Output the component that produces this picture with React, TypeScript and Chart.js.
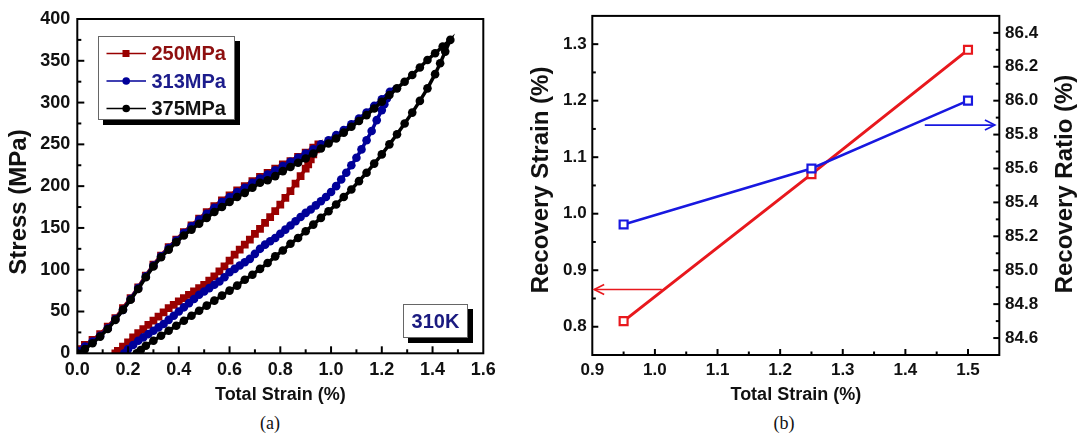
import React, { useEffect, useRef } from 'react';
import { Chart, registerables } from 'chart.js';

Chart.register(...registerables);

const SANS = '"Liberation Sans", Arial, Helvetica, sans-serif';
const SERIF = '"Liberation Serif", "Times New Roman", serif';

type Pt = [number, number];

// (a) stress–strain loops: [total strain %, stress MPa], loading then unloading
const loop250: Pt[] = [
  [0, 5], [0.03, 10], [0.06, 16], [0.09, 23], [0.12, 32], [0.15, 42], [0.18, 54], [0.21, 66],
  [0.24, 79], [0.27, 93], [0.3, 106], [0.33, 117], [0.36, 127], [0.39, 136], [0.42, 145],
  [0.45, 153], [0.48, 161], [0.51, 169], [0.54, 176], [0.57, 183], [0.6, 189], [0.63, 195],
  [0.66, 200], [0.69, 206], [0.72, 211], [0.75, 216], [0.78, 221], [0.81, 226], [0.84, 230],
  [0.87, 235], [0.9, 240], [0.93, 246], [0.95, 250],
  [0.94, 244], [0.93, 238], [0.92, 232], [0.91, 226], [0.9, 221], [0.88, 212], [0.86, 203],
  [0.84, 194], [0.82, 186], [0.8, 178], [0.78, 170], [0.76, 163], [0.74, 156], [0.72, 149],
  [0.7, 143], [0.68, 136], [0.66, 130], [0.64, 124], [0.62, 118], [0.6, 111], [0.58, 104],
  [0.56, 98], [0.54, 92], [0.52, 87], [0.5, 82], [0.48, 78], [0.46, 74], [0.44, 70], [0.42, 66],
  [0.4, 62], [0.38, 58], [0.36, 54], [0.34, 49], [0.32, 44], [0.3, 39], [0.28, 34], [0.26, 29],
  [0.24, 24], [0.22, 19], [0.2, 13], [0.18, 8], [0.16, 3], [0.15, 0],
];

const loop313: Pt[] = [
  [0, 3], [0.03, 8], [0.06, 14], [0.09, 21], [0.12, 30], [0.15, 41], [0.18, 52], [0.21, 65],
  [0.24, 78], [0.27, 92], [0.3, 105], [0.33, 116], [0.36, 126], [0.39, 135], [0.42, 144],
  [0.45, 152], [0.48, 160], [0.51, 167], [0.54, 174], [0.57, 181], [0.6, 187], [0.63, 193],
  [0.66, 198], [0.69, 204], [0.72, 209], [0.75, 214], [0.78, 219], [0.81, 224], [0.84, 229],
  [0.87, 234], [0.9, 239], [0.93, 244], [0.96, 250], [0.99, 255], [1.02, 261], [1.05, 267],
  [1.08, 274], [1.11, 281], [1.14, 288], [1.17, 296], [1.2, 304], [1.232, 313],
  [1.22, 305], [1.21, 298], [1.2, 291], [1.18, 279], [1.16, 266], [1.14, 255], [1.12, 244],
  [1.1, 234], [1.08, 225], [1.06, 216], [1.04, 208], [1.02, 200], [1.0, 193], [0.98, 187],
  [0.96, 182], [0.94, 177], [0.92, 172], [0.9, 168], [0.88, 163], [0.86, 158], [0.84, 153],
  [0.82, 148], [0.8, 143], [0.78, 138], [0.76, 134], [0.74, 130], [0.72, 125], [0.7, 119],
  [0.68, 113], [0.66, 109], [0.64, 105], [0.62, 101], [0.6, 97], [0.58, 91], [0.56, 86],
  [0.54, 82], [0.52, 78], [0.5, 74], [0.48, 70], [0.46, 65], [0.44, 60], [0.42, 55], [0.4, 50],
  [0.38, 45], [0.36, 40], [0.34, 35], [0.32, 31], [0.3, 27], [0.28, 23], [0.26, 19], [0.24, 15],
  [0.22, 10], [0.2, 5], [0.185, 0],
];

const loop375: Pt[] = [
  [0, 0], [0.03, 5], [0.06, 12], [0.09, 20], [0.12, 29], [0.15, 40], [0.18, 52], [0.21, 64],
  [0.24, 77], [0.27, 91], [0.3, 104], [0.33, 115], [0.36, 124], [0.39, 133], [0.42, 141],
  [0.45, 148], [0.48, 155], [0.51, 162], [0.54, 169], [0.57, 175], [0.6, 181], [0.63, 187],
  [0.66, 192], [0.69, 198], [0.72, 204], [0.75, 207], [0.78, 212], [0.81, 218], [0.84, 223],
  [0.87, 228], [0.9, 233], [0.93, 239], [0.96, 245], [0.99, 251], [1.02, 257], [1.05, 264],
  [1.08, 271], [1.11, 278], [1.14, 285], [1.17, 293], [1.2, 301], [1.23, 309], [1.26, 317],
  [1.29, 325], [1.32, 333], [1.35, 342], [1.38, 351], [1.41, 359], [1.44, 367], [1.47, 375],
  [1.45, 361], [1.43, 347], [1.41, 334], [1.38, 317], [1.35, 302], [1.32, 288], [1.29, 275],
  [1.26, 262], [1.23, 250], [1.2, 238], [1.17, 227], [1.14, 216], [1.11, 206], [1.08, 196],
  [1.05, 187], [1.02, 178], [0.99, 170], [0.96, 162], [0.93, 154], [0.9, 146], [0.87, 138],
  [0.84, 131], [0.81, 123], [0.78, 116], [0.75, 108], [0.72, 101], [0.69, 94], [0.66, 88],
  [0.63, 81], [0.6, 75], [0.57, 69], [0.54, 63], [0.51, 57], [0.48, 51], [0.45, 45], [0.42, 39],
  [0.39, 33], [0.36, 27], [0.33, 21], [0.3, 15], [0.27, 9], [0.25, 4], [0.234, 0],
];

const loopLabels = ['250MPa', '313MPa', '375MPa'];
const tempLabel = '310K';
const strainTicksA = [0, 0.2, 0.4, 0.6, 0.8, 1.0, 1.2, 1.4, 1.6];
const stressTicks = [0, 50, 100, 150, 200, 250, 300, 350, 400];

// (b) recovery vs. total strain
const totalStrain = [0.95, 1.25, 1.5];
const recoveryStrain = [0.81, 1.07, 1.29];
const recoveryRatio = [85.27, 85.6, 86.0];
const strainTicksB = [0.9, 1.0, 1.1, 1.2, 1.3, 1.4, 1.5];
const recoveryStrainTicks = [0.8, 0.9, 1.0, 1.1, 1.2, 1.3];
const recoveryRatioTicks = [84.6, 84.8, 85.0, 85.2, 85.4, 85.6, 85.8, 86.0, 86.2, 86.4];

const LOOP_COLORS = ['#990000', '#000099', '#000000'];
const LOOP_TEXT = ['#8e0f0f', '#1c1c8c', '#111111'];
const RED = '#e8181d';
const BLUE = '#1818e0';

type Side = { id: string; side: 'left' | 'right' | 'bottom'; major: number; minor: number };

function frameTicks(sides: Side[], majorLen: number, minorLen: number) {
  return {
    id: 'frameTicks',
    afterDatasetsDraw(chart: any) {
      const { ctx, chartArea: a } = chart;
      ctx.save();
      ctx.strokeStyle = '#000';
      ctx.lineWidth = 2;
      ctx.strokeRect(a.left, a.top, a.right - a.left, a.bottom - a.top);
      for (const s of sides) {
        const sc = chart.scales[s.id];
        const k0 = Math.ceil(sc.min / s.minor - 1e-6);
        const k1 = Math.floor(sc.max / s.minor + 1e-6);
        for (let k = k0; k <= k1; k++) {
          const v = k * s.minor;
          if (Math.abs(v - sc.min) < 1e-6 || Math.abs(v - sc.max) < 1e-6) continue;
          const r = v / s.major;
          const len = Math.abs(r - Math.round(r)) < 1e-6 ? majorLen : minorLen;
          const p = sc.getPixelForValue(v);
          ctx.beginPath();
          if (s.side === 'left') { ctx.moveTo(a.left, p); ctx.lineTo(a.left + len, p); }
          else if (s.side === 'right') { ctx.moveTo(a.right, p); ctx.lineTo(a.right - len, p); }
          else { ctx.moveTo(p, a.bottom); ctx.lineTo(p, a.bottom - len); }
          ctx.stroke();
        }
      }
      ctx.restore();
    },
  };
}

type Label = { text: string; x: number; y: number; size: number; rotate?: boolean };

function axisTitles(labels: Label[]) {
  return {
    id: 'axisTitles',
    afterDraw(chart: any) {
      const { ctx } = chart;
      ctx.save();
      ctx.fillStyle = '#111';
      ctx.textAlign = 'center';
      ctx.textBaseline = 'middle';
      for (const l of labels) {
        ctx.font = `bold ${l.size}px ${SANS}`;
        ctx.save();
        ctx.translate(l.x, l.y);
        if (l.rotate) ctx.rotate(-Math.PI / 2);
        ctx.fillText(l.text, 0, 0);
        ctx.restore();
      }
      ctx.restore();
    },
  };
}

function shadowBox(ctx: CanvasRenderingContext2D, x: number, y: number, w: number, h: number) {
  ctx.fillStyle = '#000';
  ctx.fillRect(x + 5, y + 5, w, h);
  ctx.fillStyle = '#fff';
  ctx.fillRect(x, y, w, h);
  ctx.strokeStyle = '#666';
  ctx.lineWidth = 1;
  ctx.strokeRect(x + 0.5, y + 0.5, w - 1, h - 1);
}

const loopLegend = {
  id: 'loopLegend',
  afterDraw(chart: any) {
    const { ctx } = chart;
    ctx.save();
    shadowBox(ctx, 98, 36, 137, 84);
    const rows = [53.5, 81, 108.5];
    loopLabels.forEach((label, i) => {
      const y = rows[i];
      ctx.strokeStyle = LOOP_COLORS[i];
      ctx.lineWidth = 1.5;
      ctx.beginPath();
      ctx.moveTo(106.5, y);
      ctx.lineTo(146, y);
      ctx.stroke();
      ctx.fillStyle = LOOP_COLORS[i];
      if (i === 0) ctx.fillRect(122.5, y - 3.5, 7, 7);
      else { ctx.beginPath(); ctx.arc(126.2, y, 3.8, 0, Math.PI * 2); ctx.fill(); }
      ctx.fillStyle = LOOP_TEXT[i];
      ctx.font = `bold 20px ${SANS}`;
      ctx.textAlign = 'left';
      ctx.textBaseline = 'middle';
      ctx.fillText(label, 151.5, y + 1);
    });
    shadowBox(ctx, 403, 304, 65, 34);
    ctx.fillStyle = '#1a1a80';
    ctx.font = `bold 20px ${SANS}`;
    ctx.textAlign = 'center';
    ctx.textBaseline = 'middle';
    ctx.fillText(tempLabel, 435.5, 322);
    ctx.restore();
  },
};

function arrow(ctx: CanvasRenderingContext2D, x0: number, x1: number, y: number, color: string) {
  ctx.strokeStyle = color;
  ctx.lineWidth = 1.6;
  ctx.beginPath();
  ctx.moveTo(x0, y);
  ctx.lineTo(x1, y);
  ctx.stroke();
  const dir = Math.sign(x1 - x0);
  ctx.beginPath();
  ctx.moveTo(x1 - dir * 10, y - 5);
  ctx.lineTo(x1, y);
  ctx.lineTo(x1 - dir * 10, y + 5);
  ctx.stroke();
}

const axisArrows = {
  id: 'axisArrows',
  afterDatasetsDraw(chart: any) {
    const { ctx, scales } = chart;
    ctx.save();
    const yr = scales.y.getPixelForValue(0.866);
    arrow(ctx, scales.x.getPixelForValue(1.011), scales.x.getPixelForValue(0.903), yr, RED);
    const yb = scales.y1.getPixelForValue(85.856);
    arrow(ctx, scales.x.getPixelForValue(1.431), scales.x.getPixelForValue(1.543), yb, BLUE);
    ctx.restore();
  },
};

const tickFont = (size: number) => ({ family: SANS, size, weight: 'bold' as const });
const fixed1 = (v: any) => Number(v).toFixed(1);
const fixedTicks = (values: number[]) => (s: any) => { s.ticks = values.map((value) => ({ value })); };

function axis(min: number, max: number, values: number[], size: number, pad: number, fmt?: (v: any) => string) {
  return {
    type: 'linear',
    min,
    max,
    bounds: 'data',
    afterBuildTicks: fixedTicks(values),
    grid: { display: false, drawTicks: false },
    border: { display: false },
    ticks: { autoSkip: false, padding: pad, color: '#111', font: tickFont(size), callback: fmt, maxRotation: 0 },
  };
}

export default function App() {
  const refA = useRef<HTMLCanvasElement>(null);
  const refB = useRef<HTMLCanvasElement>(null);

  useEffect(() => {
    const loops = [loop250, loop313, loop375];
    const chartA = new Chart(refA.current!, {
      type: 'scatter',
      data: {
        datasets: loops.map((pts, i) => ({
          label: loopLabels[i],
          data: pts.map(([x, y]) => ({ x, y })),
          showLine: true,
          borderColor: LOOP_COLORS[i],
          backgroundColor: LOOP_COLORS[i],
          borderWidth: 3.5,
          pointStyle: i === 0 ? 'rect' : 'circle',
          pointRadius: i === 0 ? 5.5 : 4.3,
          pointBorderWidth: 0,
          pointBackgroundColor: LOOP_COLORS[i],
          order: 3 - i,
        })),
      },
      options: {
        responsive: false,
        animation: false,
        devicePixelRatio: 1,
        events: [],
        layout: { padding: { top: 19, right: 36.7, bottom: 0, left: 0 } },
        plugins: { legend: { display: false }, tooltip: { enabled: false } },
        scales: {
          x: { ...axis(0, 1.6, strainTicksA, 18, 6, fixed1), afterFit: (s: any) => { s.height = 56.7; } },
          y: { ...axis(0, 400, stressTicks, 18, 7), afterFit: (s: any) => { s.width = 77.3; } },
        },
      },
      plugins: [
        frameTicks([
          { id: 'x', side: 'bottom', major: 0.2, minor: 0.1 },
          { id: 'y', side: 'left', major: 50, minor: 25 },
        ], 7, 4),
        axisTitles([
          { text: 'Stress (MPa)', x: 19, y: 202, size: 24, rotate: true },
          { text: 'Total Strain (%)', x: 280.3, y: 395, size: 18 },
        ]),
        loopLegend,
      ],
    } as any);

    const chartB = new Chart(refB.current!, {
      type: 'scatter',
      data: {
        datasets: [
          {
            label: 'Recovery Strain',
            data: totalStrain.map((x, i) => ({ x, y: recoveryStrain[i] })),
            yAxisID: 'y',
            showLine: true,
            borderColor: RED,
            borderWidth: 3,
            pointStyle: 'rect',
            pointRadius: 5.6,
            pointBorderWidth: 2.2,
            pointBorderColor: RED,
            pointBackgroundColor: '#fff',
            order: 2,
          },
          {
            label: 'Recovery Ratio',
            data: totalStrain.map((x, i) => ({ x, y: recoveryRatio[i] })),
            yAxisID: 'y1',
            showLine: true,
            borderColor: BLUE,
            borderWidth: 2.5,
            pointStyle: 'rect',
            pointRadius: 5.6,
            pointBorderWidth: 2.2,
            pointBorderColor: BLUE,
            pointBackgroundColor: '#fff',
            order: 1,
          },
        ],
      },
      options: {
        responsive: false,
        animation: false,
        devicePixelRatio: 1,
        events: [],
        layout: { padding: { top: 15.7, right: 0, bottom: 0, left: 0 } },
        plugins: { legend: { display: false }, tooltip: { enabled: false } },
        scales: {
          x: { ...axis(0.9, 1.55, strainTicksB, 17, 5, fixed1), afterFit: (s: any) => { s.height = 55; } },
          y: { ...axis(0.75, 1.35, recoveryStrainTicks, 17, 5.6, fixed1), position: 'left', afterFit: (s: any) => { s.width = 72.3; } },
          y1: { ...axis(84.5, 86.5, recoveryRatioTicks, 17, 5.7, fixed1), position: 'right', afterFit: (s: any) => { s.width = 82.7; } },
        },
      },
      plugins: [
        frameTicks([
          { id: 'x', side: 'bottom', major: 0.1, minor: 0.05 },
          { id: 'y', side: 'left', major: 0.1, minor: 0.05 },
          { id: 'y1', side: 'right', major: 0.2, minor: 0.1 },
        ], 6, 3.5),
        axisTitles([
          { text: 'Recovery Strain (%)', x: 21, y: 180, size: 24, rotate: true },
          { text: 'Recovery Ratio (%)', x: 545, y: 184, size: 24, rotate: true },
          { text: 'Total Strain (%)', x: 275.8, y: 395, size: 18 },
        ]),
        axisArrows,
      ],
    } as any);

    return () => {
      chartA.destroy();
      chartB.destroy();
    };
  }, []);

  const caption: React.CSSProperties = {
    position: 'absolute', top: 423, transform: 'translate(-50%, -50%)',
    fontFamily: SERIF, fontSize: 18, color: '#111', lineHeight: 1, whiteSpace: 'nowrap',
  };

  return (
    <div style={{ position: 'fixed', left: 0, top: 0, width: 1082, height: 436, background: '#fff', overflow: 'hidden' }}>
      <canvas ref={refA} width={520} height={410} style={{ position: 'absolute', left: 0, top: 0 }} />
      <canvas ref={refB} width={562} height={410} style={{ position: 'absolute', left: 520, top: 0 }} />
      <div style={{ ...caption, left: 270 }}>(a)</div>
      <div style={{ ...caption, left: 784 }}>(b)</div>
    </div>
  );
}
